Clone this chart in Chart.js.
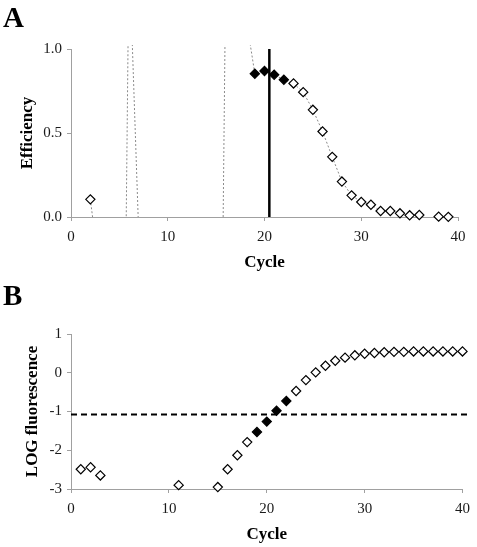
<!DOCTYPE html>
<html>
<head>
<meta charset="utf-8">
<script src="https://cdn.jsdelivr.net/npm/chart.js@4.4.1/dist/chart.umd.min.js"></script>
<style>
  body { margin: 0; background: #fff; }
  #wrap { position: relative; width: 477px; height: 547px; overflow: hidden; }
  .panel { position: absolute; left: 3px; font: bold 29px "Liberation Serif", serif; line-height: 1; }
  canvas { position: absolute; left: 0; }
</style>
</head>
<body>
<div id="wrap">
  <canvas id="chartA" width="477" height="273" style="top:0"></canvas>
  <canvas id="chartB" width="477" height="274" style="top:273px"></canvas>
  <div class="panel" style="top:3px">A</div>
  <div class="panel" style="top:281px">B</div>
</div>
<script>
// cycle numbers
const cycles = [1, 2, 3, 4, 5, 6, 7, 8, 9, 10, 11, 12, 13, 14, 15, 16, 17, 18, 19, 20,
  21, 22, 23, 24, 25, 26, 27, 28, 29, 30, 31, 32, 33, 34, 35, 36, 37, 38, 39, 40];

// panel A - amplification efficiency per cycle (null = no value)
const efficiency = [null, 0.105, -0.35, null, -3.9, 1.6, -0.1, null, null, null,
  null, null, null, null, -4.0, 1.5, null, 1.22, 0.853, 0.869,
  0.847, 0.817, 0.795, 0.743, 0.638, 0.509, 0.358, 0.211, 0.129, 0.089,
  0.073, 0.036, 0.036, 0.022, 0.010, 0.012, -0.02, 0.002, 0.001, null];

// panel B - log fluorescence per cycle
const logFluorescence = [-2.49, -2.44, -2.65, null, null, null, null, null, null, null,
  -2.90, null, null, null, -2.95, -2.49, -2.13, -1.79, -1.53, -1.26,
  -0.98, -0.73, -0.47, -0.19, 0.01, 0.18, 0.31, 0.39, 0.45, 0.49,
  0.51, 0.53, 0.54, 0.54, 0.55, 0.55, 0.55, 0.55, 0.55, 0.55];

// cycles used for the fit (filled markers)
const fitCycles = [19, 20, 21, 22];
const ct = 20.5;
const threshold = -1.08;

const xTicks = [0, 10, 20, 30, 40];
const effTicks = [0, 0.5, 1];
const logTicks = [-3, -2, -1, 0, 1];

Chart.defaults.font.family = '"Liberation Serif", "Times New Roman", serif';
Chart.defaults.color = '#1a1a1a';
Chart.defaults.animation = false;

const axisGray = '#a0a0a0';
const isFit = c => fitCycles.includes(c);

function xAxis(height, titlePad) {
  return {
    type: 'linear',
    min: xTicks[0],
    max: xTicks[xTicks.length - 1],
    afterBuildTicks: s => { s.ticks = xTicks.map(v => ({ value: v })); },
    ticks: { font: { size: 15 }, padding: 7, maxRotation: 0 },
    grid: { drawOnChartArea: false, tickLength: 4, color: axisGray },
    border: { color: axisGray },
    title: { display: true, text: 'Cycle', color: '#000', font: { size: 17, weight: 'bold' }, padding: { top: 0, bottom: titlePad } },
    afterFit: s => { s.height = height; }
  };
}

function yAxis(ticks, label, width, titlePad, fmt) {
  return {
    type: 'linear',
    min: ticks[0],
    max: ticks[ticks.length - 1],
    afterBuildTicks: s => { s.ticks = ticks.map(v => ({ value: v })); },
    ticks: { font: { size: 15 }, padding: 5, callback: fmt },
    grid: { drawOnChartArea: false, tickLength: 4, color: axisGray },
    border: { color: axisGray },
    title: { display: true, text: label, color: '#000', font: { size: 17, weight: 'bold' }, padding: { top: titlePad, bottom: 0 } },
    afterFit: s => { s.width = width; }
  };
}

const markerStyle = {
  showLine: false,
  pointStyle: 'rectRot',
  pointRadius: 4.6,
  pointHoverRadius: 4.6,
  pointBorderColor: '#000',
  pointBorderWidth: 1.2,
  pointBackgroundColor: ctx => isFit(ctx.raw.x) ? '#000' : '#fff',
  clip: false
};

const baseOptions = {
  responsive: false,
  plugins: { legend: { display: false }, tooltip: { enabled: false } },
};

// Panel A
new Chart(document.getElementById('chartA'), {
  type: 'scatter',
  data: {
    datasets: [
      Object.assign({
        data: cycles.map((c, i) => ({ x: c, y: efficiency[i] }))
          .filter(p => p.y !== null && p.y >= 0 && p.y <= 1)
      }, markerStyle),
      {
        data: [{ x: ct, y: 0 }, { x: ct, y: 1 }],
        showLine: true,
        borderColor: '#000',
        borderWidth: 2.5,
        pointRadius: 0
      },
      {
        data: cycles.map((c, i) => ({ x: c, y: efficiency[i] })),
        showLine: true,
        spanGaps: false,
        borderColor: '#8a8a8a',
        borderWidth: 1,
        borderDash: [2, 2],
        pointRadius: 0,
        clip: { left: 0, right: 0, top: 4, bottom: 0 }
      }
    ]
  },
  options: Object.assign({}, baseOptions, {
    layout: { padding: { left: 0, right: 19, top: 49, bottom: 0 } },
    scales: {
      x: xAxis(56, 0),
      y: yAxis(effTicks, 'Efficiency', 71, 17, v => v.toFixed(1))
    }
  })
});

// Panel B
new Chart(document.getElementById('chartB'), {
  type: 'scatter',
  data: {
    datasets: [
      Object.assign({
        data: cycles.map((c, i) => ({ x: c, y: logFluorescence[i] }))
          .filter(p => p.y !== null)
      }, markerStyle),
      {
        data: [{ x: 0, y: threshold }, { x: 40.6, y: threshold }],
        showLine: true,
        borderColor: '#000',
        borderWidth: 2,
        borderDash: [6, 4],
        pointRadius: 0,
        clip: { left: 0, right: 10, top: 0, bottom: 0 }
      }
    ]
  },
  options: Object.assign({}, baseOptions, {
    layout: { padding: { left: 0, right: 13, top: 61, bottom: 0 } },
    scales: {
      x: xAxis(58, 2),
      y: yAxis(logTicks, 'LOG fluorescence', 71, 22, v => String(v))
    }
  })
});
</script>
</body>
</html>
